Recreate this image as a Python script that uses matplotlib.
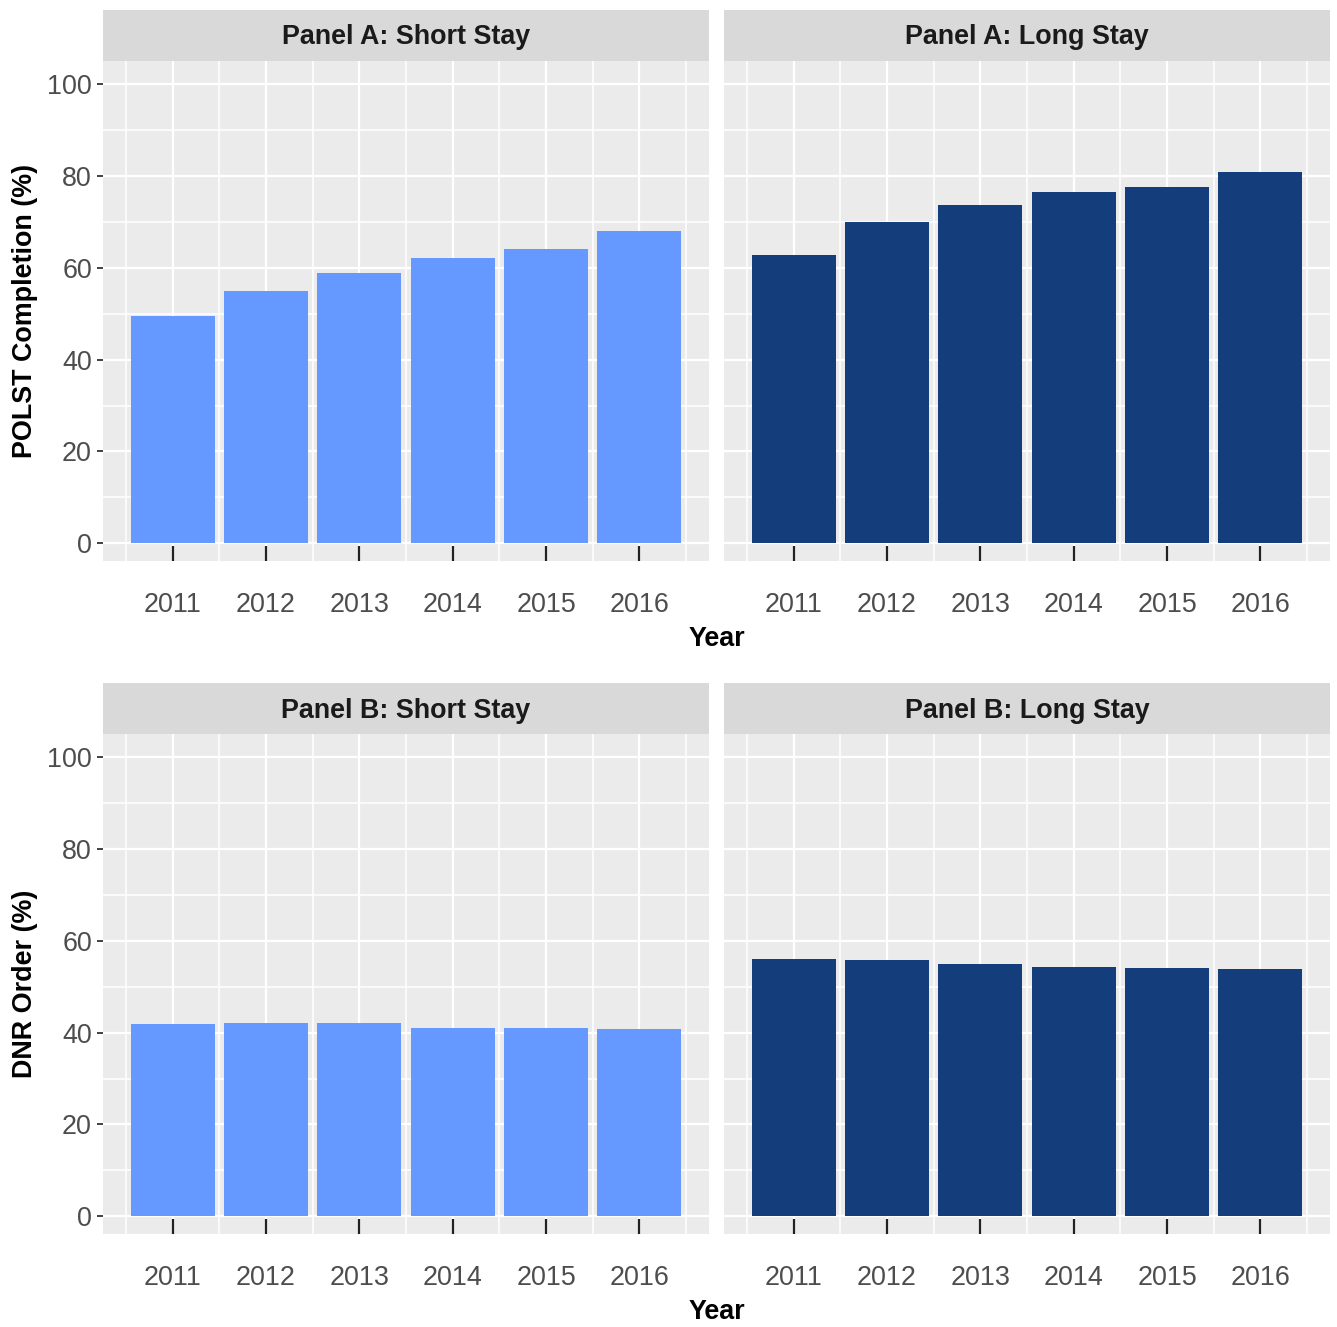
import matplotlib
matplotlib.use("Agg")
import matplotlib.pyplot as plt
from matplotlib.patches import Rectangle
import numpy as np

plt.rcParams['font.family'] = ['Liberation Sans', 'DejaVu Sans']

# Data
years = [2011, 2012, 2013, 2014, 2015, 2016]
polst_short = [49.5, 54.9, 58.8, 62.1, 64.1, 68.0]
polst_long = [62.7, 69.9, 73.6, 76.5, 77.6, 80.8]
dnr_short = [41.8, 42.0, 42.0, 41.0, 41.0, 40.7]
dnr_long = [56.0, 55.8, 54.9, 54.2, 54.0, 53.8]

strip_titles = [["Panel A: Short Stay", "Panel A: Long Stay"],
                ["Panel B: Short Stay", "Panel B: Long Stay"]]
row_values = [[polst_short, polst_long], [dnr_short, dnr_long]]
row_ylabels = ["POLST Completion (%)", "DNR Order (%)"]
y_ticks = [0, 20, 40, 60, 80, 100]

short_color = "#6699FF"
long_color = "#143D7B"
panel_bg = "#EBEBEB"
strip_bg = "#D9D9D9"
text_grey = "#4D4D4D"

W, H = 1337, 1327
fig = plt.figure(figsize=(W / 100, H / 100), dpi=100)
fig.patch.set_facecolor("white")

col_lefts = [103, 724]
panel_w = 606
row_tops = [61, 734]
panel_h = 500
strip_h = 51
fs = 19.4

for r in range(2):
    for c in range(2):
        x0 = col_lefts[c]
        y0 = row_tops[r]
        ax = fig.add_axes([x0 / W, 1 - (y0 + panel_h) / H, panel_w / W, panel_h / H])
        ax.set_facecolor(panel_bg)
        ax.set_xlim(2010.255, 2016.745)
        ax.set_ylim(-3.85, 105)

        # gridlines
        for yv in np.arange(10, 100, 20):
            ax.axhline(yv, color="white", lw=1.1, zorder=0.5)
        for yv in y_ticks:
            ax.axhline(yv, color="white", lw=1.6, zorder=0.6)
        for xv in np.arange(2010.5, 2017, 1.0):
            ax.axvline(xv, color="white", lw=1.1, zorder=0.5)
        for xv in years:
            ax.axvline(xv, color="white", lw=1.6, zorder=0.6)

        color = short_color if c == 0 else long_color
        ax.bar(years, row_values[r][c], width=0.9, color=color, zorder=2)

        for s in ax.spines.values():
            s.set_visible(False)

        ax.set_xticks(years)
        ax.set_xticklabels([str(y) for y in years])
        ax.tick_params(axis="x", direction="in", length=11, width=1.6,
                       color="#222222", labelsize=fs, labelcolor=text_grey, pad=22.5)
        ax.set_yticks(y_ticks)
        if c == 0:
            ax.set_yticklabels([str(v) for v in y_ticks])
            ax.tick_params(axis="y", direction="out", length=4, width=1.3,
                           color="#333333", labelsize=fs, labelcolor=text_grey, pad=4)
        else:
            ax.tick_params(axis="y", length=0, labelleft=False)

        # facet strip
        fig.patches.append(Rectangle((x0 / W, 1 - y0 / H), panel_w / W, strip_h / H,
                                     transform=fig.transFigure, facecolor=strip_bg,
                                     edgecolor="none", zorder=0))
        fig.text((x0 + panel_w / 2) / W, 1 - (y0 - strip_h / 2 + 2) / H, strip_titles[r][c],
                 ha="center", va="center", fontsize=fs, fontweight="bold", color="#1A1A1A")

    # axis titles
    fig.text(25 / W, 1 - (row_tops[r] + panel_h / 2) / H, row_ylabels[r], rotation=90,
             ha="center", va="center", fontsize=fs, fontweight="bold", color="black")
    fig.text(716.5 / W, 1 - (row_tops[r] + 578) / H, "Year",
             ha="center", va="center", fontsize=fs, fontweight="bold", color="black")

fig.savefig("out.png", dpi=100, facecolor="white")
